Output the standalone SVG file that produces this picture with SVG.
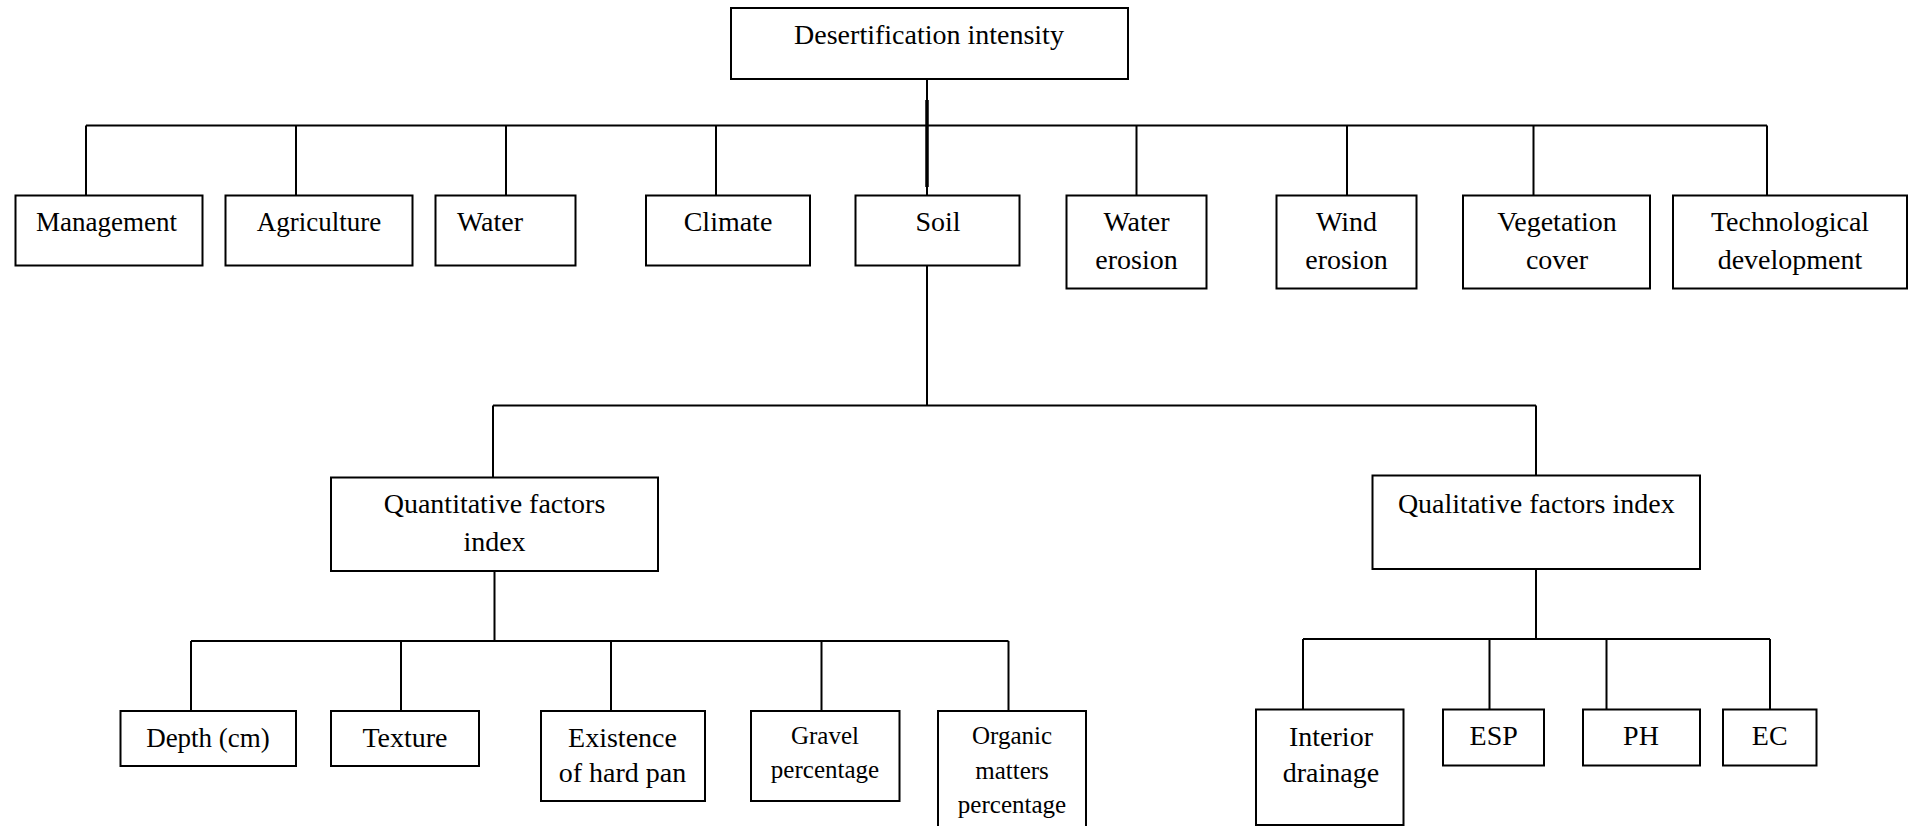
<svg xmlns="http://www.w3.org/2000/svg" width="1910" height="826" viewBox="0 0 1910 826">
<style>
rect.box{fill:#fff;stroke:#000;stroke-width:2}
.conn path{fill:none;stroke:#000;stroke-width:2}
text{font-family:"Liberation Serif","Times New Roman",serif;font-size:28px;fill:#000;text-anchor:middle}
.s27{font-size:27px}
.s25{font-size:25px}
</style>
<rect width="1910" height="826" fill="#fff"/>
<g class="conn" id="connectors">
<path d="M927 79V196"/>
<path d="M927 100V187" style="stroke-width:3.5"/>
<path d="M86 125.5H1767"/>
<path d="M86 125.5V195.5M296 125.5V195.5M506 125.5V195.5M716 125.5V195.5M1136.5 125.5V195.5M1347 125.5V195.5M1533.5 125.5V195.5M1767 125.5V195.5"/>
<path d="M927 265.5V405.5"/>
<path d="M493 405.5H1536"/>
<path d="M493 405.5V477.5M1536 405.5V475.5"/>
<path d="M494.5 571V641M191 641H1008.5"/>
<path d="M191 641V711M401 641V711M611 641V711M821.5 641V711M1008.5 641V711"/>
<path d="M1536 569V639M1303 639H1770"/>
<path d="M1303 639V709.5M1489.5 639V709.5M1606.5 639V709.5M1770 639V709.5"/>
</g>
<g id="n-desertification"><rect class="box" x="731" y="8" width="397" height="71"/><text x="929" y="44">Desertification intensity</text></g>
<g id="n-management"><rect class="box" x="15.5" y="195.5" width="187" height="70"/><text class="s27" x="106.5" y="230.7">Management</text></g>
<g id="n-agriculture"><rect class="box" x="225.5" y="195.5" width="187" height="70"/><text class="s27" x="319" y="230.7">Agriculture</text></g>
<g id="n-water"><rect class="box" x="435.5" y="195.5" width="140" height="70"/><text x="490" y="230.7">Water</text></g>
<g id="n-climate"><rect class="box" x="646" y="195.5" width="164" height="70"/><text x="728" y="230.7">Climate</text></g>
<g id="n-soil"><rect class="box" x="855.5" y="195.5" width="164" height="70"/><text x="938" y="230.7">Soil</text></g>
<g id="n-water-erosion"><rect class="box" x="1066.5" y="195.5" width="140" height="93"/><text x="1136.5" y="230.7">Water</text><text x="1136.5" y="269.3">erosion</text></g>
<g id="n-wind-erosion"><rect class="box" x="1276.5" y="195.5" width="140" height="93"/><text x="1346.5" y="230.7">Wind</text><text x="1346.5" y="269.3">erosion</text></g>
<g id="n-vegetation"><rect class="box" x="1463" y="195.5" width="187" height="93"/><text x="1557" y="230.7">Vegetation</text><text x="1557" y="269.3">cover</text></g>
<g id="n-technological"><rect class="box" x="1673" y="195.5" width="234" height="93"/><text x="1790" y="230.7">Technological</text><text x="1790" y="269.3">development</text></g>
<g id="n-quantitative"><rect class="box" x="331" y="477.5" width="327" height="93.5"/><text x="494.5" y="513.3">Quantitative factors</text><text x="494.5" y="551">index</text></g>
<g id="n-qualitative"><rect class="box" x="1372.5" y="475.5" width="327.5" height="93.5"/><text x="1536.3" y="512.7">Qualitative factors index</text></g>
<g id="n-depth"><rect class="box" x="120.5" y="711" width="175.5" height="55"/><text class="s27" x="208" y="746.7">Depth (cm)</text></g>
<g id="n-texture"><rect class="box" x="331" y="711" width="148" height="55"/><text x="405" y="746.7">Texture</text></g>
<g id="n-hardpan"><rect class="box" x="541" y="711" width="164" height="90"/><text x="622.5" y="746.7">Existence</text><text x="622.5" y="781.7">of hard pan</text></g>
<g id="n-gravel"><rect class="box" x="751" y="711" width="148.5" height="90"/><text class="s25" x="825" y="744.3">Gravel</text><text class="s25" x="825" y="778.3">percentage</text></g>
<g id="n-organic"><rect class="box" x="938" y="711" width="148" height="125"/><text class="s25" x="1012" y="744.3">Organic</text><text class="s25" x="1012" y="779.3">matters</text><text class="s25" x="1012" y="813.3">percentage</text></g>
<g id="n-interior"><rect class="box" x="1256" y="709.5" width="147.5" height="115.5"/><text x="1331" y="745.7">Interior</text><text x="1331" y="781.7">drainage</text></g>
<g id="n-esp"><rect class="box" x="1443" y="709.5" width="101" height="56"/><text x="1493.7" y="745">ESP</text></g>
<g id="n-ph"><rect class="box" x="1583" y="709.5" width="117" height="56"/><text x="1641" y="745">PH</text></g>
<g id="n-ec"><rect class="box" x="1723" y="709.5" width="93.5" height="56"/><text x="1769.7" y="745">EC</text></g>
</svg>
